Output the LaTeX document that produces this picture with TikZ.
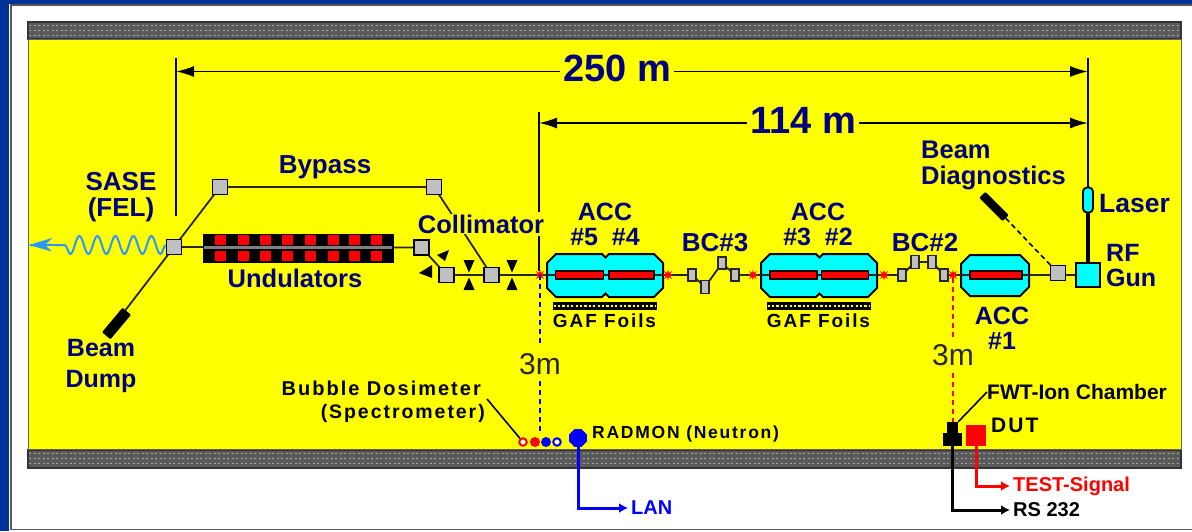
\documentclass[tikz,border=0pt]{standalone}
\usepackage{fontspec}
\setmainfont{Liberation Sans}
\newfontfamily\spc[LetterSpace=10]{Liberation Sans}
\usetikzlibrary{arrows.meta,decorations.pathmorphing,shapes.misc,shapes.geometric}
\definecolor{navy}{HTML}{000080}
\definecolor{frameblue}{HTML}{003399}
\definecolor{wave}{HTML}{2A96FF}
\definecolor{hallyellow}{HTML}{FFFF00}
\definecolor{acccyan}{HTML}{00FFFF}
\definecolor{pureblue}{HTML}{0000FF}
\definecolor{purered}{HTML}{FF0000}
\definecolor{magfill}{HTML}{C0C0C0}
\definecolor{strip}{HTML}{5A5A5A}
\tikzset{
  lbl/.style={font=\bfseries\fontsize{#1}{#1}\selectfont,text=navy,inner sep=0pt,align=center},
  blk/.style={font=\bfseries\fontsize{#1}{#1}\selectfont,text=black,inner sep=0pt,align=center},
  spk/.style={font=\spc\bfseries\fontsize{#1}{#1}\selectfont,text=black,inner sep=0pt,align=center},
  dimtext/.style={font=\bfseries\fontsize{#1}{#1}\selectfont,text=navy,inner sep=0pt,fill=hallyellow},
  mag/.style={chamfered rectangle,chamfered rectangle corners={#1},chamfered rectangle xsep=3pt,chamfered rectangle ysep=3pt,draw=black,line width=1.8pt,fill=magfill,minimum width=15pt,minimum height=15pt,inner sep=0pt},
  bc/.style={draw=black!85,line width=1.4pt,fill=magfill,minimum width=8pt,minimum height=12pt,inner sep=0pt},
  beam/.style={line width=1.8pt,draw=black!85},
  acc/.style={draw=black,line width=2pt,fill=acccyan},
  rod/.style={draw=black,line width=1.2pt,fill=purered,minimum height=8pt,inner sep=0pt},
  dimline/.style={line width=1.8pt,{Latex[length=18pt,width=11pt]}-{Latex[length=18pt,width=11pt]}},
  redstar/.style={star,star points=8,star point ratio=2.4,fill=purered,inner sep=0pt,minimum size=11pt},
  sig/.style={line width=3pt,-{Latex[length=9pt,width=10pt]},shorten >=3pt},
  dashb/.style={line width=1.6pt,dash pattern=on 5pt off 4pt},
}
\begin{document}
\begin{tikzpicture}[x=1pt,y=-1pt]
\useasboundingbox (0,0) rectangle (1192,531);
\fill[frameblue] (0,0) rectangle (1192,531);
\fill[white] (9,3.5) rectangle (1192,531);
\draw[black!65,line width=1.5pt] (1192,5) -- (11,5) -- (11,529.5) -- (1192,529.5);
% hall
\fill[strip,draw=black!80,line width=1.5pt] (28,22) rectangle (1181,39);
\fill[strip,draw=black!80,line width=1.5pt] (28,450) rectangle (1181,468);
\foreach \yy in {25.5,30.5,35.5,453.5,458.5,463.5}{\draw[black!35,line width=1pt,dash pattern=on 2pt off 2.5pt] (29,\yy) -- (1180,\yy);}
\fill[hallyellow,draw=black!60,line width=1pt] (28,39.7) rectangle (1181,449.3);
% dimensions
\draw[line width=2pt] (176,58) -- (176,216);
\draw[line width=2pt] (1088,58) -- (1088,188);
\draw[line width=2pt] (539,112) -- (539,212);
\draw[line width=2pt] (539,236) -- (539,271);
\coordinate (d1l) at (176,71.5); \coordinate (d1r) at (1088,71.5);
\coordinate (d2l) at (539,123); \coordinate (d2r) at (1088,123);
\draw[dimline] (d1l) -- (d1r);
\draw[dimline] (d2l) -- (d2r);
\node[dimtext=38,inner xsep=3pt] (t250) at (617,68) {250 m};
\node[dimtext=38,inner xsep=3pt] (t114) at (803,120) {114 m};
% beamline anchors
\coordinate (dumpend) at (124,312);
\coordinate (psw) at (174,247);
\coordinate (pb1) at (220,187);
\coordinate (pb2) at (434,187);
\coordinate (pc0) at (421.5,247.5);
\coordinate (pc1) at (446.5,275);
\coordinate (pc2) at (491.5,275);
\coordinate (pr0) at (540,275);
\coordinate (pr1) at (668,275);
\coordinate (pr2) at (753,275);
\coordinate (pr3) at (884,275);
\coordinate (pr4) at (953,275);
\coordinate (pgun) at (1088,275);
\coordinate (pbc31) at (692,275);
\coordinate (pbc32) at (705,287);
\coordinate (pbc33) at (722,263);
\coordinate (pbc34) at (735,275);
\coordinate (pbc21) at (902,275);
\coordinate (pbc22) at (915,262);
\coordinate (pbc23) at (932,262);
\coordinate (pbc24) at (944,275);
\coordinate (pdiag) at (1058,273);
\draw[beam] (psw) -- (pb1) -- (pb2) -- (pc2) -- (pc1) -- (pc0) -- (psw) -- (dumpend);
\draw[beam] (pc2) -- (pr1);
\node[mag={south west}] (sw) at (psw) {};
\node[mag={south west}] (b1) at (pb1) {};
\node[mag={south east}] (b2) at (pb2) {};
\node[mag={south east}] (c0) at (pc0) {};
\node[mag={{north west,south east}}] (c1) at (pc1) {};
\node[mag={north west}] (c2) at (pc2) {};
\node[fill=black,minimum width=32pt,minimum height=11pt,inner sep=0pt,rounded corners=1pt,rotate=50] (dump) at (116.5,323.5) {};
% undulator
\fill[black] (203,233.5) rectangle (394,263);
\foreach \xx in {220,243,265,287,310,333,354,376}{
  \fill[purered] (\xx-5.5,235) rectangle (\xx+5.5,245);
  \fill[purered] (\xx-5.5,251) rectangle (\xx+5.5,261);}
\draw[black!50,line width=3pt] (204,247.5) -- (392,247.5);
% wave
\coordinate (wavestart) at (166,245);
\coordinate (waveend) at (57,245);
\draw[wave,line width=2pt,decorate,decoration={snake,segment length=18pt,amplitude=9pt}] (wavestart) -- (waveend);
\draw[wave,line width=2pt] (30,245) -- (58,245);
\fill[wave] (29,245) -- (52,238) -- (45,245) -- (52,251.5) -- cycle;
% collimator jaws
\foreach \xx in {469,512}{
 \fill[black] (\xx-5.5,260) -- (\xx+5.5,260) -- (\xx,272.5) -- cycle;
 \fill[black] (\xx-5.5,290) -- (\xx+5.5,290) -- (\xx,277.5) -- cycle;}
\fill[black] (449,250) -- (437,255) -- (445,261) -- cycle;
\fill[black] (419,273) -- (432,265) -- (432,278) -- cycle;
% acc modules
\newcommand{\accmod}[2]{%
 \draw[acc] (#1+9,#2-21.5) -- (#1+55,#2-21.5) -- (#1+58.5,#2-18) -- (#1+62,#2-21.5) -- (#1+107,#2-21.5) -- (#1+116,#2-12.5) -- (#1+116,#2+12.5) -- (#1+107,#2+21.5) -- (#1+62,#2+21.5) -- (#1+58.5,#2+18) -- (#1+55,#2+21.5) -- (#1+9,#2+21.5) -- (#1,#2+12.5) -- (#1,#2-12.5) -- cycle;
}
\accmod{547}{275.5}
\accmod{761}{275.5}
\draw[acc] (970,255) -- (1020,255) -- (1029,264) -- (1029,287) -- (1020,296) -- (970,296) -- (961,287) -- (961,264) -- cycle;
% main beam
\draw[beam] (540,275) -- (pr1);
\draw[beam] (pr1) -- (pbc31) -- (pbc32) -- (pbc33) -- (pbc34) -- (pr2);
\draw[beam] (pr2) -- (pr3);
\draw[beam] (pr3) -- (pbc21) -- (pbc22) -- (pbc23) -- (pbc24) -- (pr4);
\draw[beam] (pr4) -- (pgun);
\node[redstar] (r0) at (pr0) {};
\node[redstar] (r1) at (pr1) {};
\node[redstar] (r2) at (pr2) {};
\node[redstar] (r3) at (pr3) {};
\node[redstar] (r4) at (pr4) {};
\node[bc] (bc31) at (pbc31) {};
\node[bc,minimum height=13pt] (bc32) at (pbc32) {};
\node[bc] (bc33) at (pbc33) {};
\node[bc] (bc34) at (pbc34) {};
\node[bc] (bc21) at (pbc21) {};
\node[bc,minimum height=13pt] (bc22) at (pbc22) {};
\node[bc,minimum height=13pt] (bc23) at (pbc23) {};
\node[bc] (bc24) at (pbc24) {};
\node[mag={north west}] (diag) at (pdiag) {};
\node[draw=black,line width=2pt,fill=acccyan,minimum size=24pt,inner sep=0pt] (gun) at (pgun) {};
\node[rod,minimum width=48pt] (a5) at (579.5,275) {};
\node[rod,minimum width=45pt] (a4) at (631.5,275) {};
\node[rod,minimum width=47pt] (a3) at (793.5,275) {};
\node[rod,minimum width=47pt] (a2) at (845,275) {};
\node[rod,minimum width=52pt] (a1) at (996,275) {};
% foils
\newcommand{\foil}[1]{\fill[black] (#1,302) rectangle (#1+104,309.5); \draw[hallyellow,line width=1.6pt,dash pattern=on 2.2pt off 2.2pt] (#1+1,306) -- (#1+103,306);}
\foil{552.5}
\foil{766.5}
% laser
\node[draw=black,line width=1.8pt,fill=acccyan,rounded corners=4pt,minimum width=10pt,minimum height=25pt,inner sep=0pt] (laser) at (1088,200) {};
\draw[line width=4.5pt] (laser) -- (gun);
% diag
\node[fill=black,minimum width=33pt,minimum height=8.5pt,inner sep=0pt,rounded corners=1pt,rotate=-45] (detector) at (994,206.5) {};
\draw[line width=1.6pt,dash pattern=on 5pt off 3.5pt] (detector.east) -- (diag);
% dashed verticals
\coordinate (v1a) at (540,275); \coordinate (v1b) at (540,345);
\coordinate (v1c) at (540,381); \coordinate (v1d) at (540,434);
\draw[pureblue,dashb] (v1a) -- (v1b) (v1c) -- (v1d);
\coordinate (v2a) at (953,278); \coordinate (v2b) at (953,339);
\coordinate (v2c) at (953,373); \coordinate (v2d) at (953,422);
\draw[purered,dashb] (v2a) -- (v2b) (v2c) -- (v2d);
% dosimeters
\node[circle,draw=purered,line width=2pt,fill=white,minimum size=7.5pt,inner sep=0pt] (d1) at (523,442) {};
\node[circle,fill=purered,minimum size=10pt,inner sep=0pt] (d2) at (535,442) {};
\node[circle,fill=pureblue,minimum size=10pt,inner sep=0pt] (d3) at (546,442) {};
\node[circle,draw=pureblue,line width=2pt,fill=white,minimum size=7.5pt,inner sep=0pt] (d4) at (557,442) {};
\node[regular polygon,regular polygon sides=8,fill=pureblue,minimum size=19pt,inner sep=0pt] (radmon) at (578,438) {};
% chamber, DUT
\node[fill=black,minimum width=11pt,minimum height=12pt,inner sep=0pt] (fwt) at (952.5,428) {};
\node[fill=black,minimum width=19pt,minimum height=13pt,inner sep=0pt] (fwt2) at (952.5,439.5) {};
\node[fill=purered,minimum width=20pt,minimum height=21pt,inner sep=0pt] (dutbox) at (976,435.5) {};
% labels
\node[lbl=26] (tbyp) at (325,167) {Bypass};
\node[lbl=26,align=center] (tsase) at (121,197) {SASE\\(FEL)};
\node[lbl=25.5] (tund) at (295,278) {Undulators};
\node[lbl=25] (tbd) at (101,366) {Beam\\[6pt]Dump};
\node[lbl=25.5,fill=hallyellow,inner ysep=1pt] (tcol) at (481,224) {Collimator};
\node[lbl=25] (t54) at (605,224) {ACC\\\#5\ \ \#4};
\node[lbl=25] (t32) at (818,224) {ACC\\\#3\ \ \#2};
\node[lbl=26] (tbc3) at (715,243) {BC\#3};
\node[lbl=26] (tbc2) at (925,243) {BC\#2};
\node[lbl=25] (ta1) at (1002,328) {ACC\\\#1};
\node[lbl=25.5,align=left,anchor=north west] (tbeam) at (921,141) {Beam\\Diagnostics};
\node[lbl=26.5,anchor=west] (tlaser) at (1099,204) {Laser};
\node[lbl=25,align=left,anchor=west] (trf) at (1106,266) {RF\\Gun};
\node[spk=19] (gf1) at (604.5,321) {GAF Foils};
\node[spk=19] (gf2) at (818.5,321) {GAF Foils};
\node[font=\fontsize{30}{30}\selectfont,text=black!85,inner sep=0pt] (tm1) at (540,364) {3m};
\node[font=\fontsize{30}{30}\selectfont,text=black!85,inner sep=0pt] (tm2) at (953,355) {3m};
\node[spk=20,anchor=east] (tbub) at (481,388) {Bubble Dosimeter};
\node[spk=19.5,anchor=east] (tspec) at (485,413) {(Spectrometer)};
\node[spk=17.5,anchor=west] (trad) at (592,434) {RADMON (Neutron)};
\node[blk=21,anchor=west] (tfwt) at (987,392) {FWT-Ion Chamber};
\node[spk=21,anchor=west] (tdut) at (991,425) {DUT};
\coordinate (bubs) at (487,399);
\draw[line width=1.6pt] (bubs) -- (d1);
\draw[line width=1.6pt] (tfwt.west) -- (fwt.north east);
% outputs
\node[font=\bfseries\fontsize{20}{20}\selectfont,text=pureblue,inner sep=0pt,anchor=west] (tlan) at (631,508) {LAN};
\node[font=\bfseries\fontsize{20}{20}\selectfont,text=purered,inner sep=0pt,anchor=west] (ttest) at (1013,486) {TEST-Signal};
\node[blk=20,anchor=west] (trs) at (1013,510) {RS 232};
\draw[sig,pureblue] (radmon) |- (tlan);
\draw[sig,purered] (dutbox) |- (ttest);
\draw[sig,black] (fwt2) |- (trs);
\end{tikzpicture}
\end{document}
